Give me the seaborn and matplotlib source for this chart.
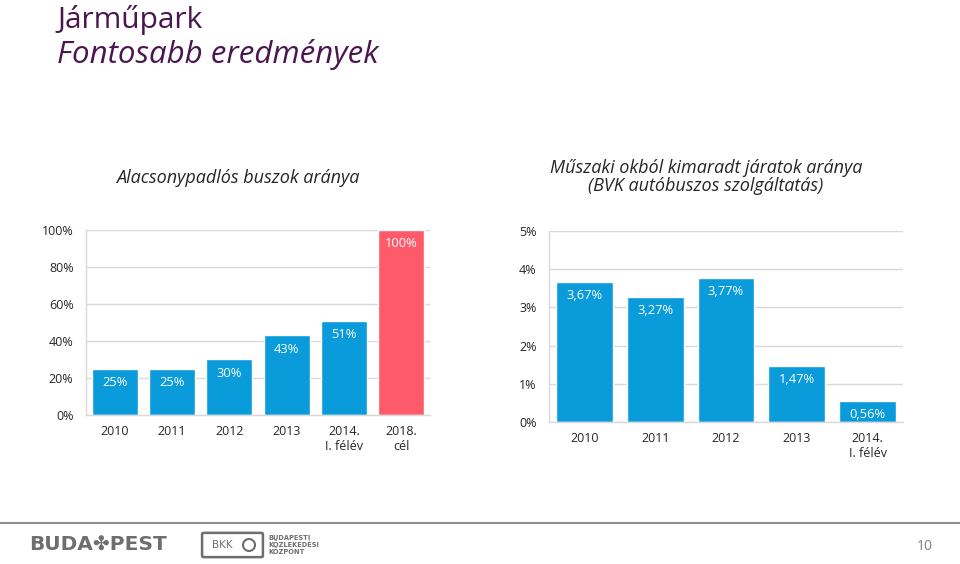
import matplotlib
matplotlib.use("Agg")
import matplotlib.pyplot as plt
from matplotlib.patches import FancyBboxPatch, Ellipse
import seaborn as sns
import pandas as pd

# ---- data ----
left_categories = ["2010", "2011", "2012", "2013", "2014.\nI. félév", "2018.\ncél"]
left_values = [25, 25, 30, 43, 51, 100]
left_labels = ["25%", "25%", "30%", "43%", "51%", "100%"]
left_yticks = [0, 20, 40, 60, 80, 100]
left_yticklabels = ["0%", "20%", "40%", "60%", "80%", "100%"]

right_categories = ["2010", "2011", "2012", "2013", "2014.\nI. félév"]
right_values = [3.67, 3.27, 3.77, 1.47, 0.56]
right_labels = ["3,67%", "3,27%", "3,77%", "1,47%", "0,56%"]
right_yticks = [0, 1, 2, 3, 4, 5]
right_yticklabels = ["0%", "1%", "2%", "3%", "4%", "5%"]

title_main = "Járműpark"
title_sub = "Fontosabb eredmények"
left_title = "Alacsonypadlós buszok aránya"
right_title = "Műszaki okból kimaradt járatok aránya\n(BVK autóbuszos szolgáltatás)"

BLUE = "#0A9BDB"
RED = "#FF5A69"
PURPLE = "#4B1650"
GRID = "#D9D9D9"
TXT = "#262626"
LOGO = "#6E6E6E"

sns.set_theme(style="white")
plt.rcParams["font.family"] = ["Open Sans", "DejaVu Sans"]

fig = plt.figure(figsize=(9.6, 5.64), dpi=100)
fig.patch.set_facecolor("white")


def style_axes(ax, n, yticks, yticklabels, ymax):
    ax.set_ylim(0, ymax)
    ax.set_xlim(-0.5, n - 0.5)
    ax.set_yticks(yticks)
    ax.set_yticklabels(yticklabels, fontsize=9, color=TXT)
    ax.yaxis.grid(True, color=GRID, linewidth=1)
    ax.set_axisbelow(True)
    for s in ["top", "right"]:
        ax.spines[s].set_visible(False)
    for s in ["left", "bottom"]:
        ax.spines[s].set_color(GRID)
        ax.spines[s].set_linewidth(1)
    ax.tick_params(axis="y", length=0, pad=9)
    ax.tick_params(axis="x", which="major", length=0, pad=7, labelsize=9, labelcolor=TXT)
    ax.set_xticks([i - 0.5 for i in range(n + 1)], minor=True)
    ax.tick_params(axis="x", which="minor", length=5, color=GRID, width=1, direction="out")
    ax.set_xlabel("")
    ax.set_ylabel("")


def add_labels(ax, labels):
    for patch, lab in zip(ax.patches, labels):
        x = patch.get_x() + patch.get_width() / 2
        y = patch.get_height()
        ax.annotate(lab, (x, y), xytext=(0, -10), textcoords="offset points",
                    ha="center", va="center", color="white", fontsize=9.3)


# left chart
axL = fig.add_axes([0.0896, 0.2642, 0.3584, 0.3280])
dfL = pd.DataFrame({"cat": left_categories, "val": left_values})
sns.barplot(data=dfL, x="cat", y="val", hue="cat",
            palette=[BLUE] * 5 + [RED], legend=False, width=0.8,
            saturation=1, ax=axL)
style_axes(axL, len(left_categories), left_yticks, left_yticklabels, 100)
add_labels(axL, left_labels)

# right chart
axR = fig.add_axes([0.5719, 0.2518, 0.3687, 0.3387])
dfR = pd.DataFrame({"cat": right_categories, "val": right_values})
sns.barplot(data=dfR, x="cat", y="val", hue="cat",
            palette=[BLUE] * 5, legend=False, width=0.8,
            saturation=1, ax=axR)
style_axes(axR, len(right_categories), right_yticks, right_yticklabels, 5)
add_labels(axR, right_labels)

# chart titles
fig.text(238 / 960, 1 - 178 / 564, left_title, ha="center", va="center",
         fontsize=13, style="italic", color=TXT)
fig.text(706 / 960, 1 - 177 / 564, right_title, ha="center", va="center",
         fontsize=13, style="italic", color=TXT, linespacing=1.05)

# page title
fig.text(57 / 960, 1 - 20 / 564, title_main, ha="left", va="center",
         fontsize=21.5, color=PURPLE)
fig.text(57 / 960, 1 - 55 / 564, title_sub, ha="left", va="center",
         fontsize=22.5, style="italic", color=PURPLE)

# footer
fig.add_artist(plt.Line2D([0, 1], [1 - 523 / 564] * 2, color="#8C8C8C",
                          linewidth=1.5, transform=fig.transFigure))
fig.text(29 / 960, 1 - 545 / 564, "BUDA✤PEST", ha="left", va="center",
         fontsize=14.5, fontweight="bold", color=LOGO, family="DejaVu Sans")
box = FancyBboxPatch((204 / 960, 1 - 556 / 564), 57 / 960, 22 / 564,
                     boxstyle="round,pad=0.002", transform=fig.transFigure,
                     facecolor="white", edgecolor=LOGO, linewidth=1.8)
fig.add_artist(box)
fig.text(222 / 960, 1 - 545 / 564, "BKK", ha="center", va="center",
         fontsize=7.5, color=LOGO, family="DejaVu Sans")
fig.add_artist(Ellipse((249 / 960, 1 - 545 / 564), 12 / 960, 12 / 564,
                       transform=fig.transFigure, facecolor="white",
                       edgecolor=LOGO, linewidth=1.5))
fig.text(268 / 960, 1 - 545 / 564, "BUDAPESTI\nKÖZLEKEDÉSI\nKÖZPONT", ha="left",
         va="center", fontsize=4.8, color=LOGO, linespacing=1.0,
         family="DejaVu Sans", fontweight="bold")
fig.text(925 / 960, 1 - 546 / 564, "10", ha="center", va="center",
         fontsize=10, color="#7F7F7F")

fig.savefig("out.png", dpi=100, facecolor="white")
